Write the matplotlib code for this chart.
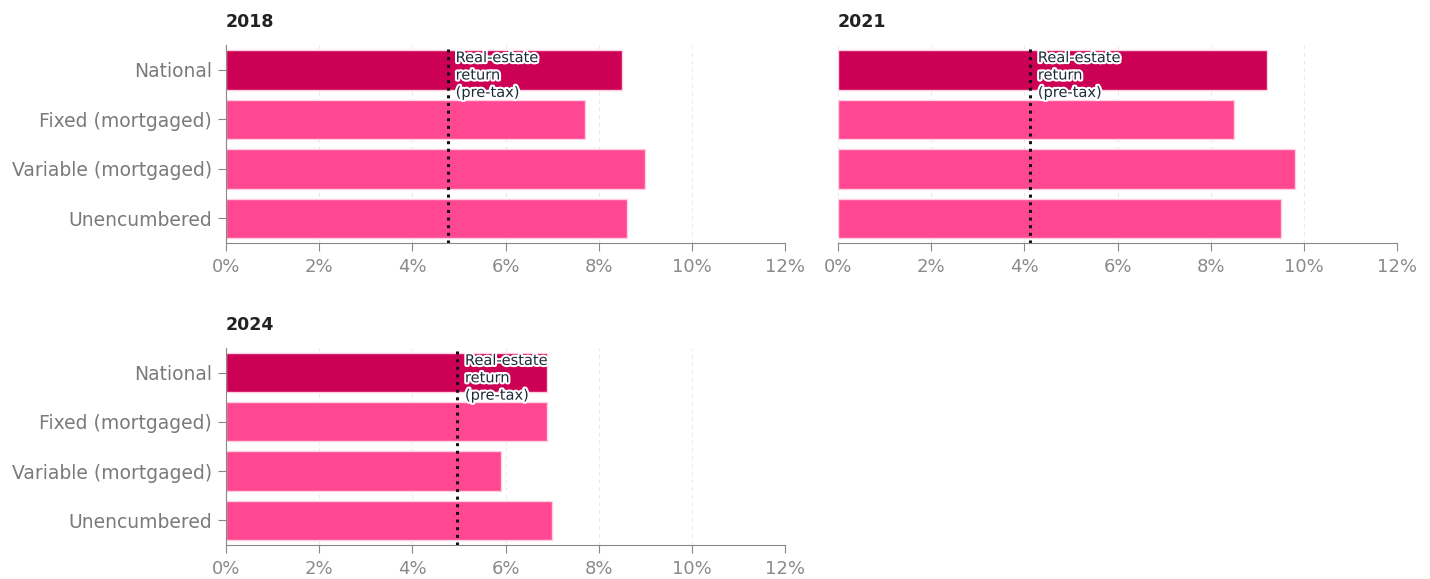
import matplotlib
matplotlib.use("Agg")
import matplotlib.pyplot as plt
import matplotlib.patheffects as pe
from matplotlib.ticker import FuncFormatter

plt.rcParams['font.family'] = ['DejaVu Sans']

categories = ["National", "Fixed (mortgaged)", "Variable (mortgaged)", "Unencumbered"]
years = ["2018", "2021", "2024"]
values_2018 = [8.5, 7.7, 9.0, 8.6]
values_2021 = [9.2, 8.5, 9.8, 9.5]
values_2024 = [6.9, 6.9, 5.9, 7.0]
real_estate_return = [4.76, 4.12, 4.96]
xticks = [0, 2, 4, 6, 8, 10, 12]

dark_pink = "#cc0055"
pink = "#ff4891"
grey_text = "#8a8a8a"

fig = plt.figure(figsize=(14.3, 5.79), dpi=100)
positions = [
    [0.158, 0.580, 0.391, 0.342],
    [0.586, 0.580, 0.391, 0.342],
    [0.158, 0.059, 0.391, 0.340],
]
all_values = [values_2018, values_2021, values_2024]

for i, (year, vals, ret, pos) in enumerate(zip(years, all_values, real_estate_return, positions)):
    ax = fig.add_axes(pos)
    colors = [dark_pink] + [pink] * (len(categories) - 1)
    ax.barh(range(len(categories)), vals, height=0.8, color=colors,
            edgecolor="#ffd0e2", linewidth=1.0, zorder=2)
    ax.set_ylim(len(categories) - 0.5, -0.5)
    ax.set_xlim(0, 12)
    ax.set_xticks(xticks)
    ax.xaxis.set_major_formatter(FuncFormatter(lambda v, p: f"{v:.0f}%"))
    ax.grid(axis="x", color="#e8e8e8", linestyle=(0, (4, 4)), linewidth=0.7, zorder=0)
    ax.set_axisbelow(True)

    ax.axvline(ret, color="#111111", linestyle=(0, (1, 1.5)), linewidth=2.2, zorder=3)
    ax.text(ret + 0.17, -0.40, "Real-estate\nreturn\n(pre-tax)", fontsize=10.5,
            color="#1c2b3a", va="top", ha="left", linespacing=1.2, zorder=4,
            path_effects=[pe.withStroke(linewidth=3, foreground="white")])

    for s in ["top", "right"]:
        ax.spines[s].set_visible(False)
    ax.spines["bottom"].set_color("#888888")
    ax.spines["left"].set_color("#888888")
    ax.tick_params(axis="x", colors="#888888", labelcolor=grey_text, labelsize=13,
                   length=6, pad=5)
    if i == 1:
        ax.spines["left"].set_visible(False)
        ax.set_yticks([])
    else:
        ax.set_yticks(range(len(categories)))
        ax.set_yticklabels(categories)
        ax.tick_params(axis="y", colors="#888888", labelcolor="#7a7a7a", labelsize=13.5,
                       length=6, pad=4)

    ax.text(0, 1.07, year, transform=ax.transAxes, fontsize=12.5, fontweight="bold",
            color="#222222", ha="left", va="bottom")

fig.savefig("out.png", dpi=100)
